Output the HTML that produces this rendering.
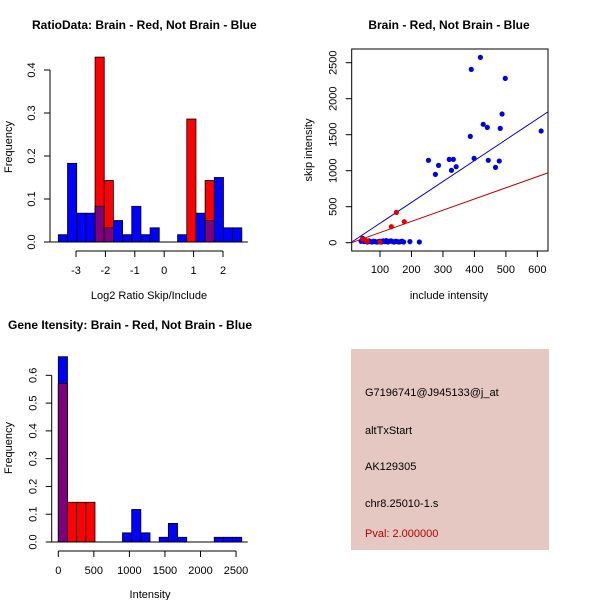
<!DOCTYPE html>
<html><head><meta charset="utf-8">
<style>
html,body{margin:0;padding:0;background:#fff;}
svg{display:block;font-family:"Liberation Sans",Arial,sans-serif;}
</style></head>
<body>
<svg id="s" width="600" height="600" viewBox="0 0 600 600" xmlns="http://www.w3.org/2000/svg">
  <rect x="0" y="0" width="600" height="600" fill="#fff"/>
  <g id="p1"></g>
  <g id="p2"></g>
  <g id="p3"></g>
  <g>
    <rect x="351" y="349" width="198" height="201" fill="#e5c8c2"/>
    <text x="365" y="396" font-size="11">G7196741@J945133@j_at</text>
    <text x="365" y="434" font-size="11">altTxStart</text>
    <text x="365" y="470" font-size="11">AK129305</text>
    <text x="365" y="507" font-size="11">chr8.25010-1.s</text>
    <text x="365" y="537" font-size="11" fill="#b00000">Pval: 2.000000</text>
  </g>
</svg>
<script>
// ---- Chart 1 data: ratio histogram ----
const ratioStart = -3.6;
const ratioBinWidth = 0.312;
const ratioBlue = [0.017,0.183,0.067,0.067,0.083,0.033,0.05,0.017,0.083,0.017,0.033,0,0,0.017,0,0.067,0.05,0.15,0.033,0.033];
const ratioRed  = [0,0,0,0,0.43,0.143,0,0,0,0,0,0,0,0,0.286,0,0.143,0,0,0];
const ratioXTicks = [-3,-2,-1,0,1,2];
const ratioYTicks = [0,0.1,0.2,0.3,0.4];

// ---- Chart 2 data: scatter ----
const blueX = [390,419,498,488,428,441,482,387,612,254,286,276,320,333,327,342,399,444,479,467,
  40,45,50,55,60,65,70,75,80,85,90,95,100,105,110,115,120,125,130,135,140,145,150,155,160,165,170,175,195,225];
const blueY = [2407,2574,2282,1787,1644,1602,1588,1477,1551,1144,1074,949,1157,1157,1005,1056,1171,1144,1134,1046,
  20,60,15,30,10,25,15,10,20,15,10,15,20,10,25,15,30,10,20,25,15,10,20,15,10,15,20,10,15,10];
const redX = [152,136,177,45,55,60,100];
const redY = [421,222,292,50,30,20,10];
const blueLine = [-20, 2.9];   // intercept, slope
const redLine = [-15, 1.555];
const scatXTicks = [100,200,300,400,500,600];
const scatYTicks = [0,500,1000,1500,2000,2500];

// ---- Chart 3 data: gene intensity histogram ----
const geneStart = 0;
const geneBinWidth = 129;
const geneBlue = [0.667,0,0,0,0,0,0,0.033,0.117,0.033,0,0.017,0.067,0.017,0,0,0,0.017,0.017,0.017];
const geneRed  = [0.571,0.143,0.143,0.143,0,0,0,0,0,0,0,0,0,0,0,0,0,0,0,0];
const geneXTicks = [0,500,1000,1500,2000,2500];
const geneYTicks = [0,0.1,0.2,0.3,0.4,0.5,0.6];

const NS = "http://www.w3.org/2000/svg";
function mk(parent, tag, attrs, text){
  const e = document.createElementNS(NS, tag);
  for (const k in attrs) e.setAttribute(k, attrs[k]);
  if (text !== undefined) e.textContent = text;
  parent.appendChild(e);
  return e;
}

function histogram(g, cfg){
  const {start, bw, blue, red, xs, ys, xt, yt, axisY, axisX, yLabelFmt} = cfg;
  for (let i = 0; i < blue.length; i++){
    const x0 = xs(start + i*bw), x1 = xs(start + (i+1)*bw);
    const b = blue[i], r = red[i];
    if (b > 0){
      const e = mk(g, 'rect', {x:x0, y:ys(b), width:x1-x0, height:ys(0)-ys(b), fill:'#0000ff', stroke:'#000', 'stroke-width':0.8});
      
      
    }
    if (r > 0){
      const e = mk(g, 'rect', {x:x0, y:ys(r), width:x1-x0, height:ys(0)-ys(r), fill:'#ff0000', stroke:'#000', 'stroke-width':0.8});
      
      
    }
    if (b > 0 && r > 0){
      const m = Math.min(b, r);
      const e = mk(g, 'rect', {x:x0, y:ys(m), width:x1-x0, height:ys(0)-ys(m), fill:'#7f007f', stroke:'#000', 'stroke-width':0.8});
      
      
    }
  }
  const base = mk(g, 'line', {x1:xs(start)-8, x2:xs(start + blue.length*bw)+6, y1:ys(0), y2:ys(0), stroke:'#000', 'stroke-width':1});
  
  
  // y axis
  const ya = mk(g, 'line', {x1:axisX, x2:axisX, y1:ys(yt[0]), y2:ys(yt[yt.length-1]), stroke:'#000'});
  
  
  yt.forEach(v => {
    mk(g, 'line', {x1:axisX-6, x2:axisX, y1:ys(v), y2:ys(v), stroke:'#000'});
    const t = mk(g, 'text', {x:0, y:0, 'font-size':11, 'text-anchor':'middle', transform:`translate(${axisX-15},${ys(v)}) rotate(-90)`}, yLabelFmt(v));
    
    
  });
  // x axis
  const xa = mk(g, 'line', {x1:xs(xt[0]), x2:xs(xt[xt.length-1]), y1:axisY, y2:axisY, stroke:'#000'});
  
  
  xt.forEach(v => {
    mk(g, 'line', {x1:xs(v), x2:xs(v), y1:axisY, y2:axisY+6, stroke:'#000'});
    const t = mk(g, 'text', {x:xs(v), y:axisY+23, 'font-size':11, 'text-anchor':'middle'}, String(v));
    
    
  });
}

// Chart 1
(function(){
  const g = document.getElementById('p1');
  const xs = v => 76 + (v+3)*29.4;
  const ys = v => 242 - v*430;
  histogram(g, {start:ratioStart, bw:ratioBinWidth, blue:ratioBlue, red:ratioRed, xs, ys,
    xt:ratioXTicks, yt:ratioYTicks, axisY:251, axisX:50, yLabelFmt:v=>v.toFixed(1)});
  let t = mk(g,'text',{x:32,y:29,'font-size':12,'font-weight':'bold'},'RatioData: Brain - Red, Not Brain - Blue');
   
  t = mk(g,'text',{x:149,y:299,'font-size':11,'text-anchor':'middle'},'Log2 Ratio Skip/Include');
   
  t = mk(g,'text',{x:0,y:0,'font-size':11,'text-anchor':'middle',transform:'translate(12,147) rotate(-90)'},'Frequency');
   
})();

// Chart 2
(function(){
  const g = document.getElementById('p2');
  const xs = v => 380 + (v-100)*0.3147;
  const ys = v => 242.7 - v*0.072;
  const L=351.7, R=548, T=49, B=251;
  mk(g,'defs',{}).innerHTML = `<clipPath id="clip2"><rect x="${L}" y="${T}" width="${R-L}" height="${B-T}"/></clipPath>`;
  const box = mk(g,'rect',{x:L,y:T,width:R-L,height:B-T,fill:'none',stroke:'#000'});
   
  const lg = mk(g,'g',{'clip-path':'url(#clip2)'});
  const x0 = 0, x1 = 700;
  let l = mk(lg,'line',{x1:xs(x0),y1:ys(blueLine[0]+blueLine[1]*x0),x2:xs(x1),y2:ys(blueLine[0]+blueLine[1]*x1),stroke:'#0000c0','stroke-width':1});
   
  l = mk(lg,'line',{x1:xs(x0),y1:ys(redLine[0]+redLine[1]*x0),x2:xs(x1),y2:ys(redLine[0]+redLine[1]*x1),stroke:'#c00000','stroke-width':1});
   
  blueX.forEach((x,i)=>{
    const c = mk(g,'circle',{cx:xs(x),cy:ys(blueY[i]),r:2.6,fill:'#0000e0'});
     
  });
  redX.forEach((x,i)=>{
    const c = mk(g,'circle',{cx:xs(x),cy:ys(redY[i]),r:2.6,fill:'#e00000'});
     
  });
  scatXTicks.forEach(v=>{
    mk(g,'line',{x1:xs(v),x2:xs(v),y1:B,y2:B+6,stroke:'#000'});
    const t = mk(g,'text',{x:xs(v),y:273,'font-size':11,'text-anchor':'middle'},String(v));
     
  });
  scatYTicks.forEach(v=>{
    mk(g,'line',{x1:L-6,x2:L,y1:ys(v),y2:ys(v),stroke:'#000'});
    const t = mk(g,'text',{x:0,y:0,'font-size':11,'text-anchor':'middle',transform:`translate(${L-15},${ys(v)}) rotate(-90)`},String(v));
     
  });
  let t = mk(g,'text',{x:449,y:29,'font-size':12,'font-weight':'bold','text-anchor':'middle'},'Brain - Red, Not Brain - Blue');
   
  t = mk(g,'text',{x:449,y:299,'font-size':11,'text-anchor':'middle'},'include intensity');
   
  t = mk(g,'text',{x:0,y:0,'font-size':11,'text-anchor':'middle',transform:'translate(312,150) rotate(-90)'},'skip intensity');
   
})();

// Chart 3
(function(){
  const g = document.getElementById('p3');
  const xs = v => 58.3 + v*0.0711;
  const ys = v => 542 - v*277.8;
  histogram(g, {start:geneStart, bw:geneBinWidth, blue:geneBlue, red:geneRed, xs, ys,
    xt:geneXTicks, yt:geneYTicks, axisY:551, axisX:51.7, yLabelFmt:v=>v.toFixed(1)});
  let t = mk(g,'text',{x:8,y:329,'font-size':12,'font-weight':'bold'},'Gene Itensity: Brain - Red, Not Brain - Blue');
   
  t = mk(g,'text',{x:150,y:598,'font-size':11,'text-anchor':'middle'},'Intensity');
   
  t = mk(g,'text',{x:0,y:0,'font-size':11,'text-anchor':'middle',transform:'translate(12,448) rotate(-90)'},'Frequency');
   
})();
</script>
</body></html>
